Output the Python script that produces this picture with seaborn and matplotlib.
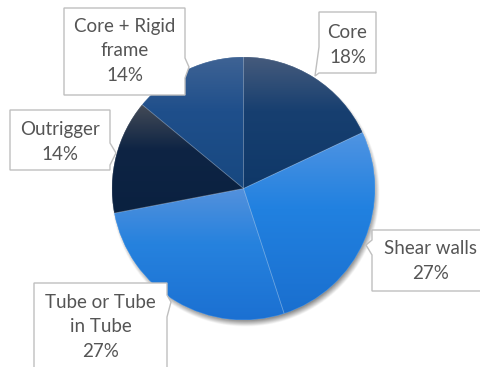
import numpy as np
import matplotlib
matplotlib.use("Agg")
import matplotlib.pyplot as plt
from matplotlib.patches import Polygon
import seaborn as sns

# Share of structural systems
categories = ["Core", "Shear walls", "Tube or Tube\nin Tube", "Outrigger", "Core + Rigid\nframe"]
shares = [18, 27, 27, 14, 14]

# Vertical gradient for each slice: top, body, bottom
slice_gradients = [
    ["#465b7c", "#173f70", "#0f3868"],
    ["#5094e2", "#2181e0", "#1a6fcf"],
    ["#5491dc", "#2682de", "#1b70d2"],
    ["#444b57", "#0e2444", "#0a2140"],
    ["#3f6394", "#1f4f8b", "#174880"],
]

W, H = 481, 367
CX, CY, R = 243.5, H - 188.5, 131.5

sns.set_theme(style="white")
plt.rcParams["font.family"] = ["Lato", "DejaVu Sans"]

fig = plt.figure(figsize=(W / 100, H / 100), dpi=100)
ax = fig.add_axes([0, 0, 1, 1])

# soft drop shadow under the pie
gx = np.linspace(CX - R - 20, CX + R + 20, 400)
gy = np.linspace(CY - R - 20, CY + R + 20, 400)
XX, YY = np.meshgrid(gx, gy)
d = np.hypot(XX - (CX + 2.0), YY - (CY - 4.0))
alpha = 0.55 * np.clip((R + 3 - d) / 8.0, 0, 1)
shadow = np.zeros((400, 400, 4))
shadow[..., 3] = alpha
ax.imshow(shadow, extent=(gx[0], gx[-1], gy[0], gy[-1]), origin="lower",
          aspect="auto", zorder=0.5, interpolation="bilinear")

wedges, _ = ax.pie(shares, startangle=90, counterclock=False, center=(CX, CY),
                   radius=R, frame=True,
                   colors=[g[1] for g in slice_gradients],
                   wedgeprops=dict(linewidth=0, zorder=1))

for wedge, stops in zip(wedges, slice_gradients):
    verts = wedge.get_path().vertices
    x0, x1 = verts[:, 0].min(), verts[:, 0].max()
    y0, y1 = verts[:, 1].min(), verts[:, 1].max()
    n = 200
    k = int(n * 0.42)
    cols = sns.blend_palette(stops[:2], k) + sns.blend_palette(stops[1:], n - k)
    grad = np.array(cols)[:, None, :3]
    im = ax.imshow(grad, extent=(x0, x1, y0, y1), origin="upper",
                   aspect="auto", zorder=1.5, interpolation="bilinear")
    im.set_clip_path(wedge)

# faint separators between slices
ax.pie(shares, startangle=90, counterclock=False, center=(CX, CY), radius=R,
       frame=True, colors=["none"] * len(shares),
       wedgeprops=dict(linewidth=0.6, edgecolor=(1, 1, 1, 0.18), zorder=2))

# callout boxes: (left, top, right, bottom, tail side, tail start, tail end, tip, text centre)
callouts = [
    (319, 12, 376, 73, "left", 47, 73, (315, 76), (347.5, 45)),
    (372, 230, 495, 291, "left", 240, 255, (366, 245), (431, 261)),
    (34, 283, 167, 380, "right", 295, 317, (171, 302), (100.5, 327)),
    (10, 110, 110, 170, "right", 143, 165, (116, 153), (60, 142)),
    (64, 8, 185, 95, "right", 58, 78, (189, 67), (124.5, 51)),
]


def to_mpl(p):
    return (p[0], H - p[1])


for (l, t, r, b, side, ya, yb, tip, tc), name, val in zip(callouts, categories, shares):
    if side == "left":
        pts = [(l, t), (r, t), (r, b), (l, b), (l, yb), tip, (l, ya)]
    else:
        pts = [(l, t), (r, t), (r, ya), tip, (r, yb), (r, b), (l, b)]
    ax.add_patch(Polygon([to_mpl(p) for p in pts], closed=True, facecolor="white",
                         edgecolor="#bfbfbf", linewidth=1.0, zorder=3))
    cx, cy = to_mpl(tc)
    ax.text(cx, cy, f"{name}\n{val}%", ha="center", va="center", fontsize=13.5,
            color="#555555", linespacing=1.52, zorder=4)

ax.set_xlim(0, W)
ax.set_ylim(0, H)
ax.set_axis_off()
fig.savefig("out.png", dpi=100, facecolor="white")
